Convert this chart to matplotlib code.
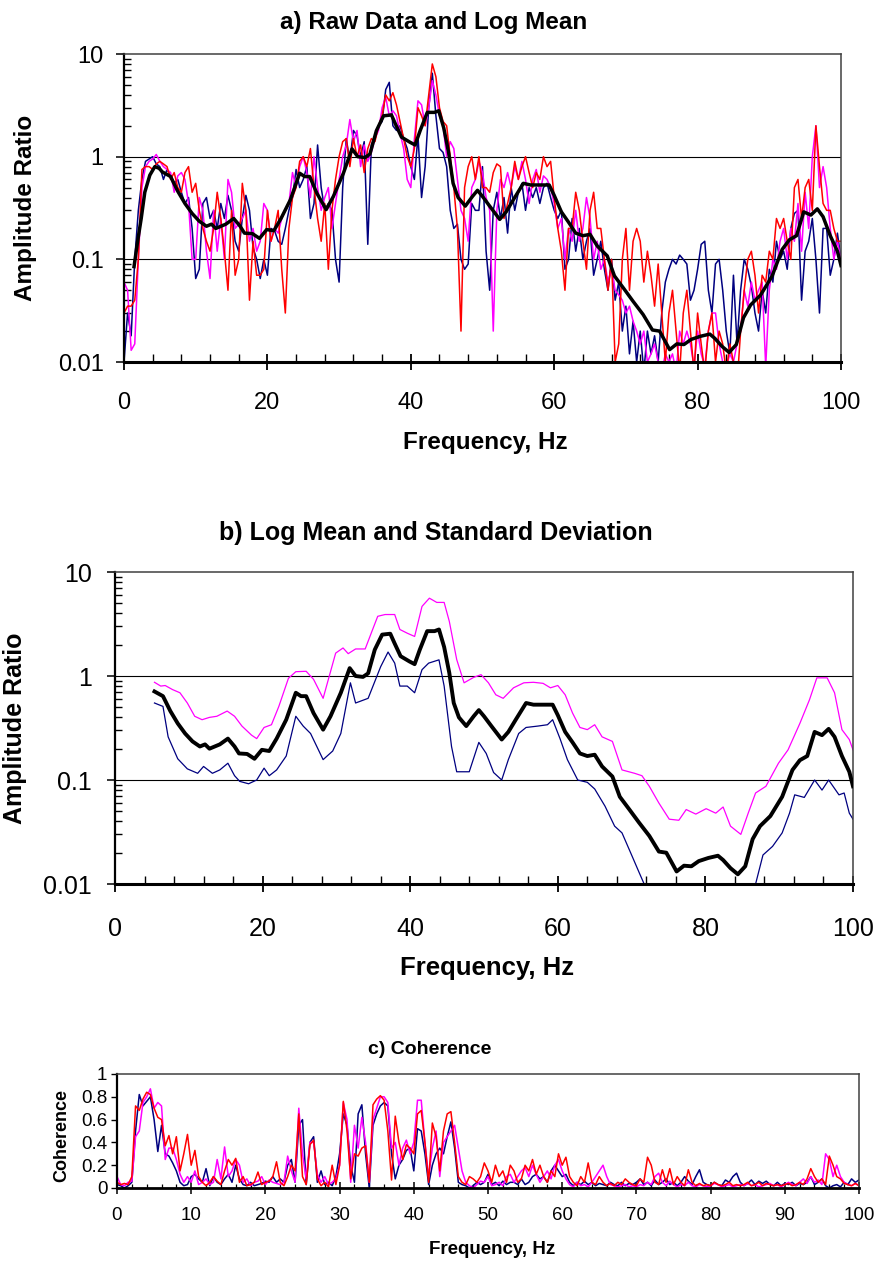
import numpy as np
import matplotlib
matplotlib.use("Agg")
import matplotlib.pyplot as plt
from matplotlib.ticker import (MultipleLocator, LogLocator, FixedLocator,
                               NullFormatter, FuncFormatter)

plt.rcParams['font.family'] = ['Liberation Sans', 'DejaVu Sans']

# -----------------------------
# Data
# -----------------------------
freq = np.arange(201) * 0.5   # 0 .. 100 Hz

blue_raw = [
    0.010, 0.030, 0.018, 0.10, 0.30, 0.60, 0.90, 0.95, 1.00, 0.85,
    0.80, 0.60, 0.75, 0.65, 0.55, 0.60, 0.45, 0.35, 0.40, 0.20,
    0.065, 0.080, 0.35, 0.40, 0.25, 0.30, 0.20, 0.35, 0.25, 0.42,
    0.30, 0.15, 0.12, 0.25, 0.42, 0.30, 0.13, 0.10, 0.065, 0.10,
    0.07, 0.20, 0.19, 0.15, 0.14, 0.20, 0.30, 0.40, 0.75, 0.50,
    0.60, 0.80, 0.25, 0.35, 1.30, 0.50, 0.30, 0.35, 0.30, 0.10,
    0.06, 0.50, 1.50, 0.90, 1.80, 1.60, 1.00, 1.40, 0.14, 1.30,
    1.60, 2.00, 2.20, 4.50, 5.30, 2.00, 1.80, 2.00, 1.50, 1.20,
    0.80, 0.60, 1.60, 0.40, 0.80, 3.00, 6.50, 2.50, 1.20, 1.10,
    0.80, 0.30, 0.20, 0.22, 0.10, 0.08, 0.09, 0.35, 0.30, 0.30,
    0.80, 0.12, 0.05, 0.30, 0.45, 0.25, 0.40, 0.18, 0.50, 0.30,
    0.45, 0.55, 0.30, 0.50, 0.40, 0.50, 0.35, 0.50, 0.55, 0.40,
    0.30, 0.25, 0.30, 0.08, 0.10, 0.25, 0.12, 0.20, 0.10, 0.15,
    0.20, 0.07, 0.10, 0.15, 0.08, 0.05, 0.10, 0.04, 0.06, 0.02,
    0.035, 0.012, 0.025, 0.010, 0.020, 0.008, 0.020, 0.012, 0.018, 0.010,
    0.030, 0.060, 0.080, 0.100, 0.090, 0.110, 0.100, 0.090, 0.040, 0.050,
    0.080, 0.140, 0.150, 0.050, 0.030, 0.090, 0.100, 0.050, 0.020, 0.012,
    0.070, 0.015, 0.050, 0.100, 0.080, 0.055, 0.030, 0.020, 0.050, 0.030,
    0.080, 0.060, 0.150, 0.100, 0.120, 0.080, 0.200, 0.280, 0.300, 0.040,
    0.120, 0.150, 0.250, 0.100, 0.030, 0.200, 0.200, 0.070, 0.100, 0.180,
    0.100,
]

magenta_raw = [
    0.060, 0.050, 0.013, 0.015, 0.10, 0.50, 0.80, 0.90, 0.95, 1.05,
    0.90, 0.80, 0.75, 0.70, 0.45, 0.65, 0.70, 0.60, 0.35, 0.10,
    0.10, 0.40, 0.30, 0.12, 0.065, 0.30, 0.12, 0.25, 0.10, 0.60,
    0.45, 0.20, 0.22, 0.25, 0.30, 0.15, 0.20, 0.12, 0.15, 0.35,
    0.30, 0.15, 0.20, 0.18, 0.25, 0.30, 0.35, 0.70, 0.50, 0.80,
    1.00, 0.70, 0.40, 1.00, 0.50, 0.30, 0.40, 0.50, 0.20, 0.35,
    0.60, 1.00, 1.30, 2.30, 1.40, 1.80, 0.80, 1.30, 0.90, 1.10,
    1.50, 1.80, 3.00, 3.80, 2.50, 2.80, 2.50, 1.70, 1.20, 0.60,
    0.50, 1.50, 3.50, 3.20, 2.00, 3.00, 5.50, 4.00, 2.50, 2.00,
    1.00, 1.40, 1.20, 0.60, 0.30, 0.25, 0.15, 0.50, 0.60, 0.90,
    0.70, 0.40, 0.30, 0.020, 0.30, 0.60, 0.50, 0.70, 0.50, 0.80,
    0.60, 0.90, 0.60, 0.35, 0.60, 0.75, 0.45, 0.65, 0.60, 0.50,
    0.35, 0.20, 0.25, 0.10, 0.20, 0.15, 0.30, 0.15, 0.20, 0.40,
    0.25, 0.10, 0.15, 0.08, 0.10, 0.06, 0.08, 0.05, 0.045, 0.04,
    0.030, 0.035, 0.025, 0.020, 0.015, 0.020, 0.010, 0.012, 0.015, 0.010,
    0.008, 0.012, 0.010, 0.012, 0.008, 0.020, 0.015, 0.020, 0.015, 0.009,
    0.020, 0.012, 0.009, 0.020, 0.030, 0.030, 0.015, 0.010, 0.009, 0.012,
    0.010, 0.015, 0.020, 0.050, 0.035, 0.060, 0.040, 0.050, 0.060, 0.009,
    0.050, 0.10, 0.08, 0.15, 0.20, 0.10, 0.20, 0.15, 0.35, 0.12,
    0.45, 0.20, 1.00, 2.00, 0.50, 0.80, 0.50, 0.20, 0.10, 0.15,
    0.10,
]

red_raw = [
    0.030, 0.035, 0.035, 0.040, 0.10, 0.75, 0.80, 0.80, 0.75, 0.85,
    0.90, 0.85, 0.80, 0.60, 0.70, 0.50, 0.45, 0.70, 0.80, 0.45,
    0.55, 0.30, 0.20, 0.15, 0.12, 0.20, 0.45, 0.25, 0.12, 0.050,
    0.30, 0.070, 0.10, 0.55, 0.30, 0.040, 0.15, 0.070, 0.070, 0.080,
    0.30, 0.15, 0.20, 0.30, 0.080, 0.030, 0.20, 0.40, 0.50, 0.90,
    1.00, 0.80, 1.20, 0.50, 0.25, 0.15, 0.35, 0.080, 0.30, 0.60,
    1.00, 1.40, 1.50, 0.80, 1.50, 1.00, 1.30, 0.70, 1.20, 1.50,
    1.40, 2.00, 2.50, 4.00, 3.50, 4.20, 3.20, 2.20, 1.50, 1.00,
    0.80, 1.20, 3.00, 2.50, 2.00, 4.00, 8.00, 6.00, 3.00, 2.20,
    2.00, 1.00, 0.50, 0.20, 0.020, 0.50, 0.80, 1.00, 0.60, 1.00,
    0.50, 0.50, 0.45, 0.70, 0.85, 0.80, 0.25, 0.35, 0.50, 0.90,
    0.60, 0.80, 1.00, 0.70, 0.50, 0.70, 0.60, 1.00, 0.80, 0.90,
    0.40, 0.20, 0.12, 0.050, 0.20, 0.20, 0.45, 0.30, 0.15, 0.080,
    0.30, 0.45, 0.20, 0.20, 0.10, 0.050, 0.10, 0.010, 0.015, 0.10,
    0.20, 0.050, 0.15, 0.20, 0.15, 0.060, 0.12, 0.070, 0.035, 0.090,
    0.030, 0.010, 0.030, 0.050, 0.020, 0.008, 0.030, 0.050, 0.020, 0.008,
    0.030, 0.015, 0.008, 0.020, 0.030, 0.010, 0.020, 0.015, 0.008, 0.015,
    0.010, 0.006, 0.020, 0.050, 0.10, 0.12, 0.070, 0.030, 0.070, 0.060,
    0.12, 0.10, 0.25, 0.20, 0.25, 0.15, 0.10, 0.50, 0.60, 0.25,
    0.50, 0.60, 0.30, 2.00, 0.80, 0.35, 0.30, 0.30, 0.20, 0.15,
    0.15,
]

# log mean (Hz, ratio)
mean_pts = [
    (1.4, 0.085), (1.9, 0.15), (2.4, 0.25), (2.9, 0.45), (3.6, 0.66),
    (4.3, 0.80), (4.9, 0.77), (5.35, 0.71), (6.5, 0.64), (7.5, 0.46),
    (8.5, 0.35), (9.5, 0.28), (10.5, 0.235), (11.5, 0.21), (12.2, 0.22),
    (12.8, 0.20), (14.2, 0.22), (15.3, 0.25), (16.2, 0.21), (16.8, 0.18),
    (17.9, 0.178), (18.9, 0.16), (19.9, 0.195), (20.9, 0.19), (21.9, 0.25),
    (23.2, 0.38), (24.5, 0.69), (25.2, 0.64), (25.9, 0.64), (26.9, 0.44),
    (28.2, 0.305), (29.2, 0.41), (30.6, 0.69), (31.8, 1.19), (32.6, 1.0),
    (33.6, 0.98), (34.3, 1.06), (35.2, 1.79), (36.2, 2.5), (37.3, 2.55),
    (37.9, 2.05), (38.7, 1.55), (39.9, 1.38), (40.6, 1.3), (41.3, 1.79),
    (42.3, 2.7), (43.3, 2.7), (43.9, 2.8), (44.6, 1.9), (45.3, 1.07),
    (45.9, 0.55), (46.6, 0.40), (47.6, 0.33), (48.6, 0.41), (49.3, 0.47),
    (50.0, 0.41), (51.0, 0.33), (52.4, 0.245), (53.3, 0.29), (54.3, 0.38),
    (55.7, 0.55), (56.7, 0.53), (58.0, 0.53), (59.3, 0.53), (60.0, 0.42),
    (61.0, 0.29), (62.0, 0.23), (63.0, 0.18), (64.0, 0.17), (65.0, 0.175),
    (66.0, 0.135), (67.4, 0.108), (68.4, 0.069), (69.7, 0.052), (71.0, 0.039),
    (72.4, 0.029), (73.7, 0.0205), (74.7, 0.020), (76.1, 0.0132), (77.1, 0.015),
    (78.1, 0.0148), (79.1, 0.0166), (80.4, 0.0178), (81.7, 0.0187), (82.4, 0.017),
    (83.4, 0.0142), (84.4, 0.0124), (85.4, 0.0148), (86.4, 0.027), (87.4, 0.036),
    (88.8, 0.045), (90.4, 0.069), (91.8, 0.125), (92.8, 0.155), (93.8, 0.17),
    (94.8, 0.29), (95.8, 0.27), (96.7, 0.31), (97.5, 0.26), (98.5, 0.17),
    (99.5, 0.12), (100.0, 0.087),
]

# mean + 1 standard deviation
upper_pts = [
    (5.35, 0.87), (6.2, 0.80), (6.8, 0.81), (7.8, 0.74), (8.8, 0.69),
    (9.8, 0.55), (10.8, 0.41), (11.8, 0.38), (12.8, 0.40), (13.8, 0.41),
    (15.2, 0.46), (16.2, 0.41), (17.2, 0.33), (18.5, 0.27), (19.2, 0.25),
    (20.2, 0.32), (21.2, 0.34), (22.2, 0.51), (23.5, 0.95), (24.5, 1.10),
    (25.9, 1.11), (26.9, 0.93), (28.2, 0.61), (29.2, 1.1), (29.9, 1.66),
    (30.9, 1.86), (31.6, 1.64), (32.6, 1.82), (33.9, 1.82), (34.9, 2.79),
    (35.6, 3.75), (36.6, 3.9), (37.9, 3.9), (38.6, 2.8), (39.6, 2.58),
    (40.6, 2.4), (41.6, 4.67), (42.6, 5.6), (43.6, 5.1), (44.6, 5.1),
    (45.3, 3.35), (46.3, 1.44), (47.3, 0.86), (48.6, 0.97), (49.6, 1.03),
    (50.6, 0.86), (51.6, 0.66), (52.6, 0.61), (54.0, 0.77), (55.4, 0.86),
    (56.7, 0.87), (58.0, 0.85), (59.0, 0.77), (60.0, 0.81), (61.0, 0.66),
    (62.0, 0.44), (63.0, 0.32), (64.0, 0.305), (65.0, 0.34), (66.0, 0.26),
    (67.4, 0.235), (68.7, 0.125), (70.4, 0.116), (71.4, 0.11), (72.4, 0.087),
    (73.7, 0.06), (75.1, 0.042), (76.4, 0.041), (77.4, 0.052), (78.7, 0.047),
    (80.1, 0.053), (81.4, 0.048), (82.4, 0.055), (83.4, 0.036), (84.8, 0.030),
    (85.8, 0.048), (86.8, 0.075), (88.2, 0.087), (89.9, 0.145), (91.2, 0.195),
    (92.8, 0.35), (94.1, 0.59), (95.1, 0.96), (96.5, 0.96), (97.5, 0.69),
    (98.5, 0.305), (99.5, 0.245), (100.0, 0.195),
]

# mean - 1 standard deviation
lower_pts = [
    (5.35, 0.55), (6.5, 0.51), (7.2, 0.26), (8.5, 0.16), (9.8, 0.128),
    (11.2, 0.116), (12.0, 0.135), (13.2, 0.116), (14.2, 0.125), (15.3, 0.145),
    (16.2, 0.11), (16.9, 0.097), (18.1, 0.092), (19.2, 0.10), (20.2, 0.13),
    (20.9, 0.11), (21.9, 0.125), (23.2, 0.17), (24.5, 0.41), (25.5, 0.33),
    (26.5, 0.28), (28.2, 0.157), (29.5, 0.19), (30.6, 0.28), (31.9, 0.86),
    (32.6, 0.55), (34.3, 0.61), (36.0, 1.23), (37.0, 1.7), (37.9, 1.33),
    (38.6, 0.80), (39.6, 0.80), (40.6, 0.69), (41.6, 1.15), (42.5, 1.33),
    (43.9, 1.43), (44.6, 0.80), (45.6, 0.21), (46.3, 0.12), (48.0, 0.12),
    (49.3, 0.23), (50.3, 0.18), (51.3, 0.118), (52.4, 0.10), (53.3, 0.157),
    (54.7, 0.28), (55.7, 0.32), (57.3, 0.33), (58.6, 0.34), (59.3, 0.38),
    (60.3, 0.25), (61.3, 0.157), (62.7, 0.10), (64.0, 0.095), (65.0, 0.082),
    (66.4, 0.056), (67.7, 0.036), (68.7, 0.031), (70.0, 0.019), (71.0, 0.013),
    (71.7, 0.010), (72.5, 0.007), (86.0, 0.007), (86.8, 0.010), (87.8, 0.019),
    (89.1, 0.023), (90.4, 0.031), (91.4, 0.048), (92.1, 0.072), (93.4, 0.068),
    (94.8, 0.10), (95.8, 0.08), (96.7, 0.10), (98.1, 0.072), (98.8, 0.075),
    (99.5, 0.048), (100.0, 0.042),
]

blue_coh = [
    0.03, 0.02, 0.00, 0.02, 0.05, 0.50, 0.82, 0.72, 0.76, 0.80,
    0.60, 0.32, 0.55, 0.30, 0.28, 0.22, 0.15, 0.05, 0.02, 0.03,
    0.10, 0.12, 0.08, 0.05, 0.17, 0.02, 0.10, 0.05, 0.03, 0.08,
    0.12, 0.05, 0.20, 0.08, 0.03, 0.02, 0.05, 0.02, 0.03, 0.04,
    0.06, 0.05, 0.10, 0.05, 0.08, 0.05, 0.20, 0.25, 0.05, 0.55,
    0.60, 0.03, 0.40, 0.45, 0.05, 0.15, 0.03, 0.05, 0.02, 0.10,
    0.30, 0.65, 0.55, 0.20, 0.05, 0.65, 0.73, 0.30, 0.00, 0.55,
    0.65, 0.72, 0.75, 0.72, 0.30, 0.08, 0.20, 0.25, 0.33, 0.35,
    0.15, 0.52, 0.50, 0.30, 0.03, 0.20, 0.30, 0.35, 0.30, 0.45,
    0.58, 0.35, 0.05, 0.03, 0.02, 0.00, 0.02, 0.05, 0.03, 0.05,
    0.12, 0.03, 0.05, 0.02, 0.06, 0.03, 0.05, 0.05, 0.03, 0.08,
    0.03, 0.05, 0.10, 0.12, 0.08, 0.10, 0.05, 0.15, 0.20, 0.15,
    0.10, 0.12, 0.05, 0.02, 0.05, 0.03, 0.06, 0.03, 0.05, 0.02,
    0.04, 0.03, 0.02, 0.05, 0.03, 0.02, 0.05, 0.02, 0.04, 0.03,
    0.05, 0.08, 0.03, 0.05, 0.02, 0.07, 0.03, 0.05, 0.08, 0.03,
    0.05, 0.02, 0.05, 0.10, 0.06, 0.03, 0.10, 0.16, 0.05, 0.03,
    0.02, 0.05, 0.03, 0.02, 0.07, 0.05, 0.10, 0.13, 0.05, 0.02,
    0.04, 0.07, 0.03, 0.06, 0.04, 0.06, 0.03, 0.02, 0.05, 0.02,
    0.04, 0.03, 0.05, 0.02, 0.04, 0.03, 0.05, 0.10, 0.03, 0.05,
    0.08, 0.02, 0.00, 0.02, 0.03, 0.01, 0.05, 0.03, 0.08, 0.05,
    0.07,
]

magenta_coh = [
    0.10, 0.03, 0.02, 0.05, 0.06, 0.45, 0.50, 0.75, 0.80, 0.87,
    0.70, 0.75, 0.72, 0.25, 0.35, 0.35, 0.25, 0.12, 0.05, 0.10,
    0.05, 0.15, 0.03, 0.05, 0.08, 0.03, 0.05, 0.25, 0.08, 0.36,
    0.10, 0.15, 0.25, 0.20, 0.05, 0.08, 0.02, 0.05, 0.06, 0.10,
    0.03, 0.07, 0.05, 0.04, 0.03, 0.05, 0.28, 0.15, 0.05, 0.70,
    0.30, 0.08, 0.40, 0.40, 0.12, 0.05, 0.10, 0.03, 0.05, 0.08,
    0.20, 0.75, 0.60, 0.05, 0.55, 0.35, 0.62, 0.40, 0.05, 0.60,
    0.70, 0.80, 0.80, 0.75, 0.35, 0.40, 0.20, 0.35, 0.42, 0.30,
    0.40, 0.77, 0.77, 0.40, 0.10, 0.35, 0.50, 0.10, 0.40, 0.45,
    0.50, 0.55, 0.35, 0.15, 0.05, 0.02, 0.00, 0.03, 0.06, 0.05,
    0.10, 0.02, 0.03, 0.05, 0.02, 0.10, 0.12, 0.05, 0.10, 0.15,
    0.18, 0.10, 0.20, 0.12, 0.05, 0.10, 0.15, 0.08, 0.20, 0.25,
    0.15, 0.08, 0.03, 0.01, 0.05, 0.02, 0.03, 0.01, 0.05, 0.10,
    0.15, 0.20, 0.10, 0.03, 0.02, 0.01, 0.02, 0.03, 0.01, 0.02,
    0.01, 0.03, 0.02, 0.05, 0.03, 0.10, 0.13, 0.05, 0.02, 0.06,
    0.03, 0.01, 0.03, 0.02, 0.05, 0.02, 0.01, 0.03, 0.02, 0.01,
    0.02, 0.04, 0.03, 0.01, 0.02, 0.03, 0.01, 0.02, 0.03, 0.02,
    0.04, 0.02, 0.03, 0.01, 0.02, 0.03, 0.04, 0.02, 0.03, 0.01,
    0.03, 0.05, 0.03, 0.02, 0.05, 0.08, 0.04, 0.10, 0.05, 0.07,
    0.03, 0.30, 0.25, 0.10, 0.20, 0.10, 0.05, 0.03, 0.02, 0.04,
    0.02,
]

red_coh = [
    0.05, 0.03, 0.04, 0.03, 0.10, 0.72, 0.68, 0.78, 0.84, 0.82,
    0.70, 0.62, 0.60, 0.37, 0.46, 0.30, 0.45, 0.15, 0.30, 0.47,
    0.20, 0.33, 0.10, 0.05, 0.02, 0.05, 0.10, 0.06, 0.03, 0.15,
    0.25, 0.20, 0.26, 0.05, 0.10, 0.02, 0.03, 0.05, 0.14, 0.03,
    0.05, 0.06, 0.10, 0.23, 0.05, 0.02, 0.10, 0.20, 0.15, 0.65,
    0.10, 0.03, 0.38, 0.42, 0.08, 0.02, 0.05, 0.01, 0.20, 0.03,
    0.20, 0.76, 0.50, 0.08, 0.30, 0.28, 0.35, 0.37, 0.05, 0.73,
    0.78, 0.81, 0.77, 0.50, 0.07, 0.63, 0.40, 0.25, 0.38, 0.35,
    0.30, 0.65, 0.68, 0.40, 0.05, 0.57, 0.45, 0.15, 0.50, 0.65,
    0.67, 0.40, 0.10, 0.05, 0.03, 0.10, 0.08, 0.05, 0.10, 0.22,
    0.15, 0.05, 0.20, 0.10, 0.15, 0.05, 0.20, 0.15, 0.05, 0.08,
    0.20, 0.15, 0.25, 0.12, 0.20, 0.10, 0.05, 0.15, 0.10, 0.30,
    0.20, 0.27, 0.10, 0.05, 0.02, 0.10, 0.05, 0.22, 0.05, 0.03,
    0.10, 0.05, 0.02, 0.04, 0.02, 0.05, 0.03, 0.08, 0.05, 0.03,
    0.02, 0.08, 0.05, 0.27, 0.20, 0.05, 0.03, 0.16, 0.05, 0.17,
    0.03, 0.10, 0.05, 0.02, 0.16, 0.05, 0.02, 0.04, 0.02, 0.03,
    0.02, 0.05, 0.03, 0.02, 0.03, 0.05, 0.02, 0.03, 0.02, 0.03,
    0.05, 0.02, 0.03, 0.05, 0.02, 0.04, 0.03, 0.02, 0.03, 0.02,
    0.03, 0.04, 0.02, 0.03, 0.05, 0.03, 0.08, 0.17, 0.10, 0.05,
    0.08, 0.03, 0.28, 0.20, 0.10, 0.08, 0.04, 0.03, 0.02, 0.04,
    0.02,
]

log_ticks = [0.01, 0.1, 1, 10]

NAVY = '#000080'
MAG = '#FF00FF'
RED = '#FF0000'

# -----------------------------
# Figure / layout helpers (pixels)
# -----------------------------
W, H = 878, 1262
fig = plt.figure(figsize=(W / 100, H / 100), dpi=100)


def box(l, t, r, b):
    return [l / W, 1 - b / H, (r - l) / W, (b - t) / H]


def ftext(x, y, s, size, rot=0):
    fig.text(x / W, 1 - y / H, s, ha='center', va='center', rotation=rot,
             fontsize=size, fontweight='bold')


def frame(ax, bottom_lw=2.2):
    ax.spines['left'].set_linewidth(1.6)
    ax.spines['bottom'].set_linewidth(bottom_lw)
    for s in ('top', 'right'):
        ax.spines[s].set_linewidth(1.1)
        ax.spines[s].set_color('#404040')


def log_axis(ax, ysize, xsize, ypad, xpad):
    ax.set_yscale('log')
    ax.set_ylim(0.01, 10)
    ax.set_xlim(0, 100)
    ax.yaxis.set_major_locator(FixedLocator(log_ticks))
    ax.yaxis.set_major_formatter(FuncFormatter(lambda v, p: f'{v:g}'))
    ax.yaxis.set_minor_locator(LogLocator(base=10, subs=np.arange(2, 10)))
    ax.yaxis.set_minor_formatter(NullFormatter())
    ax.xaxis.set_major_locator(MultipleLocator(20))
    ax.xaxis.set_minor_locator(MultipleLocator(4))
    ax.tick_params(axis='y', which='major', direction='out', length=5.5,
                   width=1.1, labelsize=ysize, pad=ypad)
    ax.tick_params(axis='y', which='minor', direction='in', length=5, width=1.0)
    ax.tick_params(axis='x', which='major', direction='inout', length=11,
                   width=1.3, labelsize=xsize, pad=xpad)
    ax.tick_params(axis='x', which='minor', direction='in', length=6, width=1.0)
    for g in (1, 0.1):
        ax.axhline(g, color='black', lw=0.8, zorder=1)
    frame(ax)


mean_f, mean_v = zip(*mean_pts)
up_f, up_v = zip(*upper_pts)
lo_f, lo_v = zip(*lower_pts)

# -----------------------------
# a) Raw Data and Log Mean
# -----------------------------
ax1 = fig.add_axes(box(124, 54, 841, 362))
ax1.plot(freq, blue_raw, color=NAVY, lw=1.1, zorder=2)
ax1.plot(freq, magenta_raw, color=MAG, lw=1.1, zorder=2)
ax1.plot(freq, red_raw, color=RED, lw=1.1, zorder=2)
ax1.plot(mean_f, mean_v, color='black', lw=2.5, zorder=3)
log_axis(ax1, 17, 17, 9, 16)

ftext(434, 22, 'a) Raw Data and Log Mean', 17.5)
ftext(26, 208, 'Amplitude Ratio', 17.5, rot=90)
ftext(485, 442, 'Frequency, Hz', 17.5)

# -----------------------------
# b) Log Mean and Standard Deviation
# -----------------------------
ax2 = fig.add_axes(box(115, 572, 853, 884))
mb = np.array(mean_f) >= 5.3
ax2.plot(up_f, up_v, color=MAG, lw=0.9, zorder=2)
ax2.plot(lo_f, lo_v, color=NAVY, lw=0.9, zorder=2)
ax2.plot(np.array(mean_f)[mb], np.array(mean_v)[mb], color='black', lw=2.8,
         zorder=3)
log_axis(ax2, 18, 18, 11, 18)

ftext(436, 533, 'b) Log Mean and Standard Deviation', 18)
ftext(15, 728, 'Amplitude Ratio', 18, rot=90)
ftext(487, 968, 'Frequency, Hz', 18.5)

# -----------------------------
# c) Coherence
# -----------------------------
ax3 = fig.add_axes(box(117, 1074, 859, 1188))
ax3.plot(freq, blue_coh, color=NAVY, lw=1.1)
ax3.plot(freq, magenta_coh, color=MAG, lw=1.1)
ax3.plot(freq, red_coh, color=RED, lw=1.1)
ax3.set_xlim(0, 100)
ax3.set_ylim(0, 1)
ax3.xaxis.set_major_locator(MultipleLocator(10))
ax3.xaxis.set_minor_locator(MultipleLocator(2))
ax3.yaxis.set_major_locator(MultipleLocator(0.2))
ax3.yaxis.set_major_formatter(FuncFormatter(lambda v, p: f'{v:g}'))
ax3.tick_params(axis='y', which='major', direction='out', length=4, width=1.0,
                labelsize=13.5, pad=3)
ax3.tick_params(axis='x', which='major', direction='inout', length=8,
                width=1.1, labelsize=13.5, pad=10)
ax3.tick_params(axis='x', which='minor', direction='in', length=3, width=0.9)
frame(ax3, bottom_lw=2.0)

ftext(430, 1049, 'c) Coherence', 14)
ftext(62, 1135, 'Coherence', 13, rot=90)
ftext(492, 1249, 'Frequency, Hz', 13.5)

fig.savefig('out.png', dpi=100)
